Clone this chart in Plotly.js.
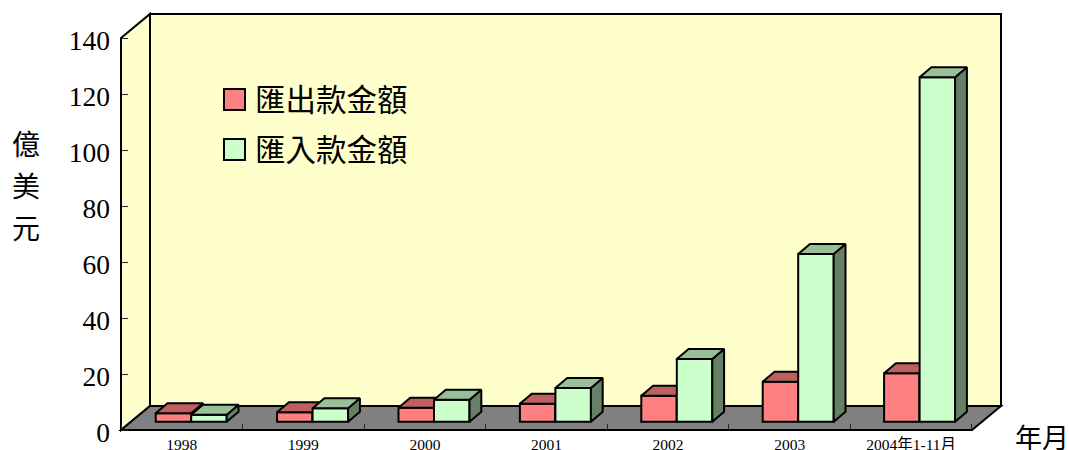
<!DOCTYPE html>
<html>
<head>
<meta charset="utf-8">
<script src="https://cdn.plot.ly/plotly-3.0.1.min.js"></script>
<style>html,body{margin:0;padding:0;background:#fff}#chart{width:1069px;height:450px}</style>
</head>
<body>
<div id="chart"></div>
<script>
// Data
const categories = ['1998','1999','2000','2001','2002','2003','2004年1-11月'];
const outflow = [3.0, 3.4, 5.0, 6.4, 9.3, 14.3, 17.3];
const inflow  = [2.5, 4.8, 7.8, 12.0, 22.4, 59.9, 123.0];
const yTicks = [0,20,40,60,80,100,120,140];
const outName = '匯出款金額';
const inName = '匯入款金額';
const yTitleChars = ['億','美','元'];
const xTitle = '年月';

// Oblique projection geometry
const W = 1069, H = 450;
const X0 = 121, Y0 = 430, PX_CAT = 121.57, PX_VAL = 2.8;
const L = 117, R = 1006, T = 10, B = 434;
const toX = p => (p - X0) / PX_CAT;
const toY = p => (Y0 - p) / PX_VAL;
const nCat = categories.length;
const wallDX = 29 / PX_CAT, wallDY = 24 / PX_VAL;
const barW = 35.5 / PX_CAT;
const barDX = 11.8 / PX_CAT, barDY = 10 / PX_VAL;
const base = 8.3 / PX_VAL;
const redLeft = i => toX(155.7 + i * 121.4);
const greenLeft = i => redLeft(i) + barW;

const INK = '#000';
const pair = p => p[0] + ',' + p[1];
const poly = pts => 'M' + pts.map(pair).join('L') + 'Z';

function faces(leftOf, vals, kind) {
  const xs = [], ys = [];
  vals.forEach((v, i) => {
    const a = leftOf(i), b = a + barW, t = base + v;
    const pts = kind === 'top'
      ? [[a,t],[a+barDX,t+barDY],[b+barDX,t+barDY],[b,t],[a,t]]
      : [[b,base],[b+barDX,base+barDY],[b+barDX,t+barDY],[b,t],[b,base]];
    pts.forEach(p => { xs.push(p[0]); ys.push(p[1]); });
    xs.push(null); ys.push(null);
  });
  return {xs, ys};
}
function faceTrace(leftOf, vals, kind, fill, yaxis) {
  const f = faces(leftOf, vals, kind);
  return {type:'scatter', mode:'lines', x:f.xs, y:f.ys, xaxis:'x', yaxis, fill:'toself',
    fillcolor:fill, line:{color:INK, width:2, shape:'linear'}, hoverinfo:'skip', showlegend:false};
}
function barTrace(leftOf, vals, name, fill, yaxis) {
  return {type:'bar', name, x:vals.map((_, i) => leftOf(i) + barW/2), y:vals,
    base:vals.map(() => base), width:barW, xaxis:'x', yaxis, showlegend:false,
    marker:{color:fill, line:{color:INK, width:2}}, hoverinfo:'name+y'};
}

const traces = [
  barTrace(redLeft, outflow, outName, '#FF8080', 'y'),
  faceTrace(redLeft, outflow, 'side', '#804040', 'y'),
  faceTrace(redLeft, outflow, 'top', '#BF6060', 'y'),
  barTrace(greenLeft, inflow, inName, '#CCFFCC', 'y2'),
  faceTrace(greenLeft, inflow, 'side', '#668066', 'y2'),
  faceTrace(greenLeft, inflow, 'top', '#99BF99', 'y2')
];

const valTop = 140;
const shapes = [
  {type:'path', layer:'below', xref:'x', yref:'y', fillcolor:'#FFFFCC', line:{color:INK, width:2},
   path:poly([[wallDX,wallDY],[wallDX,valTop+wallDY],[nCat+wallDX,valTop+wallDY],[nCat+wallDX,wallDY]])},
  {type:'path', layer:'below', xref:'x', yref:'y', fillcolor:'#FFFFCC', line:{color:INK, width:2},
   path:poly([[0,0],[0,valTop],[wallDX,valTop+wallDY],[wallDX,wallDY]])},
  {type:'path', layer:'below', xref:'x', yref:'y', fillcolor:'#808080', line:{color:INK, width:2},
   path:poly([[0,0],[wallDX,wallDY],[nCat+wallDX,wallDY],[nCat,0]])},
  {type:'rect', xref:'x', yref:'y', x0:toX(224), x1:toX(245), y0:toY(110), y1:toY(89),
   fillcolor:'#FF8080', line:{color:INK, width:2}},
  {type:'rect', xref:'x', yref:'y', x0:toX(224), x1:toX(245), y0:toY(160), y1:toY(139),
   fillcolor:'#CCFFCC', line:{color:INK, width:2}}
];

const cjk = '"Noto Sans CJK TC", sans-serif';
const note = (text, px, py, size, anchor) => ({text, showarrow:false, xref:'paper', yref:'paper',
  x:(px - L) / (R - L), y:(B - py) / (B - T), xanchor:anchor, yanchor:'middle', font:{family:cjk, size, color:'#000'}});
const yPos = [143, 185, 227];
const annotations = [
  note(outName, 253, 98, 30.5, 'left'),
  note(inName, 253, 148, 30.5, 'left'),
  note(xTitle, 1042, 436, 27, 'center')
].concat(yTitleChars.map((c, i) => note(c, 26, yPos[i], 28, 'center')));

const layout = {
  width:W, height:H, autosize:false, showlegend:false, barmode:'overlay',
  paper_bgcolor:'#fff', plot_bgcolor:'rgba(0,0,0,0)',
  margin:{l:L, r:W-R, t:T, b:H-B, pad:0},
  xaxis:{range:[toX(L), toX(R)], anchor:'free', position:(B-Y0)/(B-T), showgrid:false, zeroline:false, showline:false,
    tickmode:'array', tickvals:categories.map((_, i) => i + 0.5), ticktext:categories, ticks:'', ticklabelstandoff:3,
    tickfont:{family:'"Liberation Serif","Noto Sans CJK TC",serif', size:15.5, color:'#000'},
    minor:{tickmode:'array', tickvals:categories.map((_, i) => i).concat([nCat]), ticks:'inside', ticklen:6, tickwidth:1, tickcolor:'#222', showgrid:false}},
  yaxis:{range:[toY(B), toY(T)], anchor:'free', position:(X0-L)/(R-L), showgrid:false, zeroline:false, showline:false,
    tickmode:'array', tickvals:yTicks, ticks:'inside', ticklen:6, tickwidth:1, tickcolor:'#222', ticklabelstandoff:11, ticklabelshift:2,
    tickfont:{family:'"Liberation Serif",serif', size:27.5, color:'#000'}},
  yaxis2:{range:[toY(B), toY(T)], overlaying:'y', anchor:'free', position:(X0-L)/(R-L), visible:false, showgrid:false, zeroline:false},
  shapes, annotations
};

Plotly.newPlot('chart', traces, layout, {displayModeBar:false, staticPlot:true});
</script>
</body>
</html>
